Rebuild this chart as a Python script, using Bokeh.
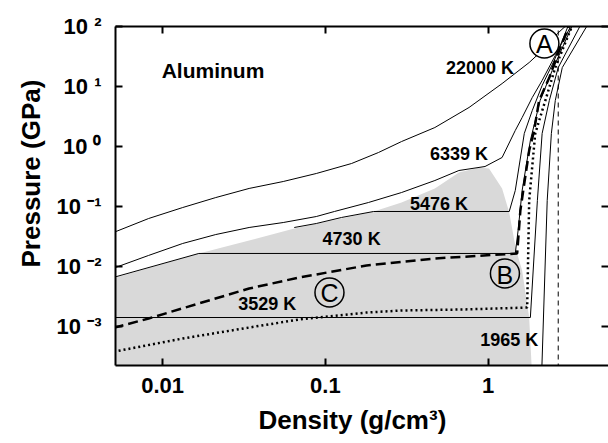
from bokeh.plotting import figure
from bokeh.models import LogAxis, FixedTicker, Range1d, Title
from bokeh.core.properties import value
from bokeh.embed import file_html
from bokeh.resources import INLINE

# ---------------- data (density g/cm3, pressure GPa) ----------------
t22000_d = [0.005, 0.0082, 0.01328, 0.0212, 0.034, 0.0551, 0.088, 0.145, 0.212, 0.294, 0.471, 0.764, 1.22, 1.79, 2.15, 2.67, 3.07]
t22000_p = [0.037, 0.0631, 0.0962, 0.141, 0.200, 0.261, 0.355, 0.521, 0.794, 1.21, 2.07, 4.47, 11.2, 25.1, 39.8, 76.4, 108]

t6339_d = [0.005, 0.0082, 0.01328, 0.0212, 0.034, 0.0551, 0.088, 0.1137, 0.184, 0.294, 0.471, 0.662, 0.958, 1.22, 1.47, 1.62, 1.87, 2.15, 2.59, 3.25]
t6339_p = [0.0094, 0.0153, 0.0242, 0.0341, 0.0447, 0.0541, 0.0681, 0.0826, 0.1166, 0.171, 0.271, 0.398, 0.464, 0.656, 1.85, 3.04, 6.56, 12.6, 32.9, 105]

t5476_d = [0.0644, 0.088, 0.1256, 0.198, 1.35, 1.47, 1.67, 1.87, 2.15, 2.55, 3.12]
t5476_p = [0.0447, 0.0521, 0.0656, 0.0826, 0.0826, 0.185, 1.65, 3.98, 10.4, 27.1, 105]

t4730_d = [0.005, 0.01668, 1.47, 1.53, 1.62, 1.82, 2.09, 2.48, 3.30]
t4730_p = [0.0066, 0.0165, 0.0165, 0.0398, 0.185, 1.26, 5.84, 18.5, 105]

t3529_d = [0.005, 1.82, 2.01, 2.15, 2.38, 2.70, 3.70]
t3529_p = [0.001413, 0.001413, 0.126, 1.65, 5.84, 20.7, 105]

t1965_d = [2.13, 2.31, 2.45, 2.59, 2.86, 4.08]
t1965_p = [0.00013, 0.126, 1.65, 5.84, 20.7, 105]

dash_d = [0.005, 0.0082, 0.01668, 0.034, 0.0691, 0.179, 0.471, 1.51, 1.58, 1.67, 1.79, 1.92, 2.06, 2.38, 2.59, 3.16]
dash_p = [0.00095, 0.00136, 0.00242, 0.0043, 0.00656, 0.0104, 0.0136, 0.0165, 0.0858, 0.242, 0.858, 1.85, 5.84, 14.1, 27.1, 105]

dot_d = [0.005, 0.01328, 0.034, 0.0691, 0.179, 0.294, 0.691, 1.74, 1.79, 1.95, 2.25, 2.59, 3.30]
dot_p = [0.00038, 0.000631, 0.000962, 0.00131, 0.00171, 0.00185, 0.00192, 0.00207, 0.126, 1.65, 5.84, 20.7, 105]

solid_density = [2.70, 2.70]
solid_density_p = [0.0001, 200]

gray_d = [0.005, 0.01668, 0.034, 0.0644, 0.198, 0.294, 0.471, 0.662, 0.880, 1.014, 1.22, 1.35, 1.45, 1.51, 1.62, 1.79, 1.88, 0.005]
gray_p = [0.0064, 0.0165, 0.0271, 0.043, 0.0826, 0.1166, 0.200, 0.369, 0.447, 0.430, 0.200, 0.0794, 0.0271, 0.0165, 0.00858, 0.00141, 0.0001, 0.0001]

iso_labels = ["22000 K", "6339 K", "5476 K", "4730 K", "3529 K", "1965 K"]
iso_label_d = [0.893, 0.662, 0.499, 0.145, 0.0439, 1.35]
iso_label_p = [20.0, 0.764, 0.112, 0.0282, 0.00233, 0.000585]

point_names = ["A", "B", "C"]
point_d = [2.22, 1.27, 0.106]
point_p = [52.1, 0.00764, 0.00369]
point_fill = ["white", "#d9d9d9", "#d9d9d9"]

x_ticks = [0.01, 0.1, 1]
x_tick_labels = ["0.01", "0.1", "1"]
y_ticks = [0.001, 0.01, 0.1, 1, 10, 100]
y_tick_labels = ["10 \u207b\u00b3", "10 \u207b\u00b2", "10 \u207b\u00b9", "10 \u2070", "10 \u00b9", "10 \u00b2"]

x_title = "Density (g/cm\u00b3)"
y_title = "Pressure (GPa)"

FONT = value("Liberation Sans")

p = figure(width=608, height=443, x_axis_type="log", y_axis_type="log",
           x_range=Range1d(0.00513, 5.5), y_range=Range1d(2.24e-4, 100),
           output_backend="svg", toolbar_location=None,
           min_border_left=115, min_border_right=0, min_border_top=26, min_border_bottom=78)
p.outline_line_color = None
p.grid.visible = False
p.background_fill_color = "white"
p.border_fill_color = "white"

# gray region
p.patch(gray_d, gray_p, fill_color="#d9d9d9", line_color=None)

# isotherms
for d, pr in [(t22000_d, t22000_p), (t6339_d, t6339_p), (t5476_d, t5476_p),
              (t4730_d, t4730_p), (t3529_d, t3529_p), (t1965_d, t1965_p)]:
    p.line(d, pr, line_color="black", line_width=1)

p.line(solid_density, solid_density_p, line_color="black", line_width=1, line_dash="5 4")
p.line(dash_d, dash_p, line_color="black", line_width=2.5, line_dash="10 5")
p.line(dot_d, dot_p, line_color="black", line_width=2.5, line_dash="2 3")

p.text(iso_label_d, iso_label_p, text=iso_labels, text_font=FONT, text_font_style="bold",
       text_font_size="18px", text_align="center", text_baseline="middle", text_color="black")
p.text([0.00986], [18.5], text=["Aluminum"], text_font=FONT, text_font_style="bold",
       text_font_size="21px", text_align="left", text_baseline="middle", text_color="black")

p.scatter(point_d, point_p, marker="circle", size=29, fill_color=point_fill,
          line_color="black", line_width=1.5)
p.text(point_d, point_p, text=point_names, text_font=FONT, text_font_size="25px",
       text_align="center", text_baseline="middle", text_color="black", y_offset=1)


def style_axis(ax, ticks, labels=True):
    ax.ticker = FixedTicker(ticks=ticks)
    ax.minor_tick_line_color = None
    ax.major_tick_in = 7
    ax.major_tick_out = 0
    ax.major_tick_line_width = 2
    ax.major_tick_line_color = "black"
    ax.axis_line_width = 2
    ax.axis_line_color = "black"
    ax.major_label_text_font = "Liberation Sans"
    ax.major_label_text_font_style = "bold"
    ax.major_label_text_font_size = "22px"
    ax.major_label_text_color = "black"
    if not labels:
        ax.major_label_text_font_size = "1px"
        ax.major_label_text_color = None
        ax.major_label_standoff = 0


xa = p.xaxis[0]
style_axis(xa, x_ticks)
xa.major_label_overrides = {t: s for t, s in zip(x_ticks, x_tick_labels)}
xa.major_label_standoff = 12

ya = p.yaxis[0]
style_axis(ya, y_ticks)
ya.major_label_overrides = {t: s for t, s in zip(y_ticks, y_tick_labels)}
ya.major_label_standoff = 14

p.add_layout(Title(text=y_title, text_font="Liberation Sans", text_font_style="bold",
                   text_font_size="26px", text_color="black", align="left",
                   offset=98, standoff=16), "left")
p.add_layout(Title(text=x_title, text_font="Liberation Sans", text_font_style="bold",
                   text_font_size="26px", text_color="black", align="left",
                   offset=143, standoff=14), "below")

top = LogAxis()
style_axis(top, x_ticks, labels=False)
p.add_layout(top, "above")

right = LogAxis()
style_axis(right, y_ticks, labels=False)
right.axis_line_color = None
p.add_layout(right, "right")

open("out.html", "w").write(file_html(p, INLINE))
